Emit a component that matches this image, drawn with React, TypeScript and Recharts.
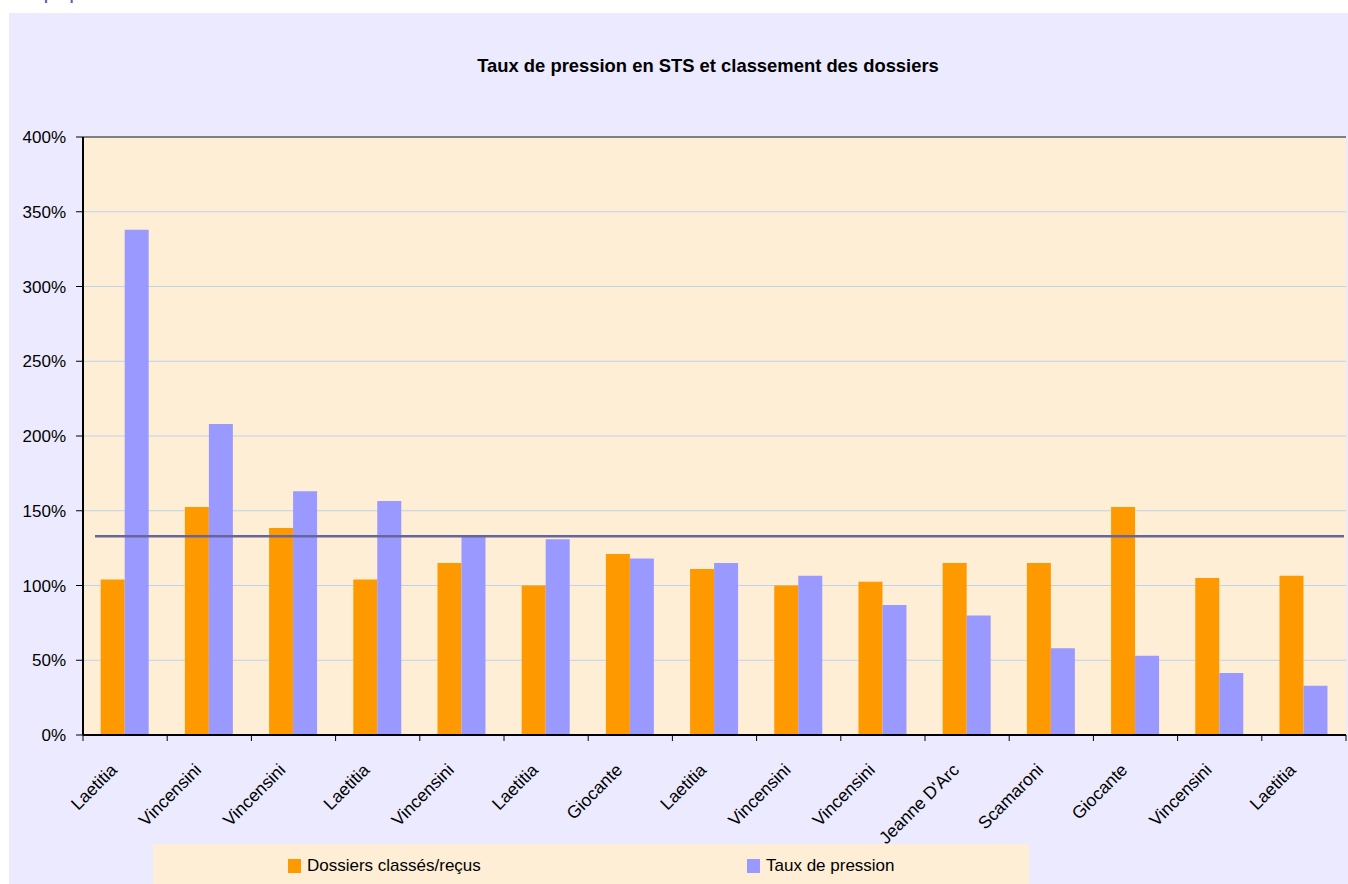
import React from 'react';
import {
  BarChart,
  Bar,
  XAxis,
  YAxis,
  CartesianGrid,
  ReferenceLine,
} from 'recharts';

const categories = [
  'Laetitia', 'Vincensini', 'Vincensini', 'Laetitia', 'Vincensini',
  'Laetitia', 'Giocante', 'Laetitia', 'Vincensini', 'Vincensini',
  "Jeanne D'Arc", 'Scamaroni', 'Giocante', 'Vincensini', 'Laetitia',
];
// valeurs en %
const dossiersClasses = [104, 152.5, 138.5, 104, 115, 100, 121, 111, 100, 102.5, 115, 115, 152.5, 105, 106.5];
const tauxPression = [338, 208, 163, 156.5, 133, 131, 118, 115, 106.5, 87, 80, 58, 53, 41.5, 33];
const tauxMoyen = 133;
const yTicks = [0, 50, 100, 150, 200, 250, 300, 350, 400];

const series = [
  { key: 'dossiers', label: 'Dossiers classés/reçus', color: '#FF9900', legendX: 288 },
  { key: 'pression', label: 'Taux de pression', color: '#9999FF', legendX: 747 },
];

const data = categories.map((name, i) => ({
  name,
  dossiers: dossiersClasses[i],
  pression: tauxPression[i],
}));

const FONT = '"Liberation Sans", Arial, sans-serif';
const CHART_W = 1339;
const CHART_H = 871;
const PLOT_W = 1263;
const band = PLOT_W / categories.length;

function CategoryTick(props: any) {
  const { x, y, payload, index } = props;
  const lx = x - 7;
  const ly = y + 36;
  return (
    <g>
      <line x1={x - band / 2} x2={x - band / 2} y1={y} y2={y + 6} stroke="#000" />
      {index === categories.length - 1 && (
        <line x1={x + band / 2} x2={x + band / 2} y1={y} y2={y + 6} stroke="#000" />
      )}
      <text
        x={lx}
        y={ly}
        transform={`rotate(-45, ${lx}, ${ly})`}
        textAnchor="end"
        fontSize={17.5}
        fontFamily={FONT}
        fill="#000"
      >
        {payload.value}
      </text>
    </g>
  );
}

function AvgLine(props: any) {
  const { x1, x2, y1 } = props;
  return <line x1={x1 + 12} x2={x2 - 2} y1={y1} y2={y1} stroke="#66669A" strokeWidth={2.5} />;
}

export default function App() {
  return (
    <div style={{ position: 'absolute', left: 0, top: 0, width: 1348, height: 884, background: '#fff', overflow: 'hidden', fontFamily: FONT }}>
      <div style={{ position: 'absolute', left: 20, top: -13, fontSize: 14, fontWeight: 'bold', color: '#5B5BA6' }}>
        Graphique 5
      </div>
      <div style={{ position: 'absolute', left: 9, top: 13, width: CHART_W, height: CHART_H, background: '#EBEAFF' }}>
        <div style={{ position: 'absolute', left: 0, width: 1398, top: 42, textAlign: 'center', fontSize: 18.4, fontWeight: 'bold', color: '#000' }}>
          Taux de pression en STS et classement des dossiers
        </div>
        <BarChart
          width={CHART_W}
          height={CHART_H}
          data={data}
          margin={{ top: 124, right: 2, left: 0, bottom: 0 }}
          barCategoryGap="21%"
          barGap={0}
        >
          <CartesianGrid yAxisId="left" vertical={false} stroke="#B8D4EE" fill="#FFEED6" />
          <XAxis
            dataKey="name"
            yAxisId="left"
            interval={0}
            height={149}
            tickLine={false}
            tickSize={0}
            tickMargin={0}
            axisLine={{ stroke: '#000', strokeWidth: 2 }}
            tick={<CategoryTick />}
          />
          <YAxis
            yAxisId="left"
            width={74}
            domain={[0, 400]}
            ticks={yTicks}
            tickFormatter={(v: number) => `${v}%`}
            tickSize={7}
            tickMargin={10}
            tick={{ fill: '#000', fontSize: 17, fontFamily: FONT }}
            tickLine={{ stroke: '#000' }}
            axisLine={{ stroke: '#000', strokeWidth: 2 }}
          />
          <YAxis
            yAxisId="right"
            orientation="right"
            width={0}
            domain={[0, 400]}
            tick={false}
            tickLine={false}
            axisLine={{ stroke: '#808080', strokeWidth: 2 }}
          />
          <ReferenceLine yAxisId="left" y={400} stroke="#808080" strokeWidth={2} />
          {series.map((s) => (
            <Bar key={s.key} yAxisId="left" dataKey={s.key} fill={s.color} isAnimationActive={false} />
          ))}
          <ReferenceLine yAxisId="left" y={tauxMoyen} shape={<AvgLine />} />
        </BarChart>
      </div>
      <div style={{ position: 'absolute', left: 153, top: 844, width: 876, height: 40, background: '#FFEED6' }}>
        {series.map((s) => (
          <div key={s.key} style={{ position: 'absolute', left: s.legendX - 153, top: 12, display: 'flex', alignItems: 'center', fontSize: 17, color: '#000' }}>
            <span style={{ display: 'inline-block', width: 13, height: 14, background: s.color, marginRight: 6 }} />
            <span>{s.label}</span>
          </div>
        ))}
      </div>
    </div>
  );
}
